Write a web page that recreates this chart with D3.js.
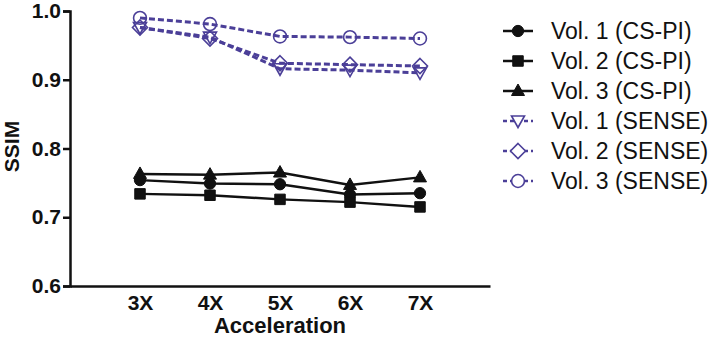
<!DOCTYPE html>
<html>
<head>
<meta charset="utf-8">
<script src="https://cdn.jsdelivr.net/npm/d3@7"></script>
<style>
  body { margin: 0; background: #fff; }
  svg { display: block; }
</style>
</head>
<body>
<div id="container"></div>
<script>
/* CONSTANTS AND GLOBALS */
const width = 709,
      height = 338,
      margin = {top: 11, bottom: 52, left: 70, right: 219};

const purple = "#4b3f98";

// data
const categories = ["3X", "4X", "5X", "6X", "7X"];
const catPos = [3, 4, 5, 6, 7];
const yTicks = [0.6, 0.7, 0.8, 0.9, 1.0];

const vol1CS = [0.754, 0.749, 0.748, 0.733, 0.735];
const vol2CS = [0.734, 0.732, 0.726, 0.722, 0.715];
const vol3CS = [0.763, 0.762, 0.765, 0.747, 0.758];
const vol1SENSE = [0.976, 0.962, 0.916, 0.914, 0.910];
const vol2SENSE = [0.976, 0.960, 0.924, 0.922, 0.920];
const vol3SENSE = [0.990, 0.981, 0.963, 0.962, 0.960];

const series = [
  {name: "Vol. 1 (CS-PI)", values: vol1CS, symbol: "circle", dashed: false},
  {name: "Vol. 2 (CS-PI)", values: vol2CS, symbol: "square", dashed: false},
  {name: "Vol. 3 (CS-PI)", values: vol3CS, symbol: "triangle", dashed: false},
  {name: "Vol. 1 (SENSE)", values: vol1SENSE, symbol: "tridown", dashed: true},
  {name: "Vol. 2 (SENSE)", values: vol2SENSE, symbol: "diamond", dashed: true},
  {name: "Vol. 3 (SENSE)", values: vol3SENSE, symbol: "ocircle", dashed: true}
];

// marker paths centred on 0,0
function markerPath(sym) {
  switch (sym) {
    case "circle": return d3.symbol(d3.symbolCircle, 100)();
    case "square": return d3.symbol(d3.symbolSquare, 110)();
    case "triangle": return "M0,-7L6.5,4.5L-6.5,4.5Z";
    case "tridown": return "M-6.5,-5L6.5,-5L0,6.5Z";
    case "diamond": return "M0,-7.5L7.5,0L0,7.5L-7.5,0Z";
    case "ocircle": return d3.symbol(d3.symbolCircle, 130)();
  }
}

const svg = d3.select("#container")
  .append("svg")
  .attr("width", width)
  .attr("height", height);

// + SCALES
const xScale = d3.scaleLinear()
  .domain([2, 8])
  .range([margin.left, width - margin.right]);

const yScale = d3.scaleLinear()
  .domain([0.6, 1.0])
  .range([height - margin.bottom, margin.top]);

// + AXES
const xAxis = d3.axisBottom(xScale)
  .tickValues(catPos)
  .tickSize(0)
  .tickPadding(9)
  .tickFormat((d, i) => categories[i]);

const yAxis = d3.axisLeft(yScale)
  .tickValues(yTicks)
  .tickSize(7)
  .tickPadding(2)
  .tickFormat(d3.format(".1f"));

const xAxisGroup = svg.append("g")
  .attr("transform", `translate(0,${height - margin.bottom})`)
  .call(xAxis);

const yAxisGroup = svg.append("g")
  .attr("transform", `translate(${margin.left},0)`)
  .call(yAxis);

[xAxisGroup, yAxisGroup].forEach(g => {
  g.select(".domain").attr("stroke", "#111").attr("stroke-width", 2.5);
  g.selectAll(".tick line").attr("stroke", "#111").attr("stroke-width", 2.5);
  g.selectAll(".tick text")
    .attr("fill", "#111")
    .attr("font-family", "Liberation Sans, Arial, sans-serif")
    .attr("font-weight", "bold")
    .attr("font-size", 21);
});

// axis titles
svg.append("text")
  .attr("x", xScale(5))
  .attr("y", 333)
  .attr("text-anchor", "middle")
  .attr("font-family", "Liberation Sans, Arial, sans-serif")
  .attr("font-weight", "bold")
  .attr("font-size", 22)
  .attr("fill", "#111")
  .text("Acceleration");

svg.append("text")
  .attr("transform", `translate(19,${yScale(0.8) - 2}) rotate(-90)`)
  .attr("text-anchor", "middle")
  .attr("font-family", "Liberation Sans, Arial, sans-serif")
  .attr("font-weight", "bold")
  .attr("font-size", 21)
  .attr("fill", "#111")
  .text("SSIM");

// + LINES
const line = d3.line()
  .x((d, i) => xScale(catPos[i]))
  .y(d => yScale(d));

series.forEach(s => {
  const col = s.dashed ? purple : "#111";
  svg.append("path")
    .datum(s.values)
    .attr("fill", "none")
    .attr("stroke", col)
    .attr("stroke-width", s.dashed ? 3 : 2.5)
    .attr("stroke-dasharray", s.dashed ? "6,3" : null)
    .attr("d", line);

  svg.selectAll(null)
    .data(s.values)
    .join("path")
    .attr("transform", (d, i) => `translate(${xScale(catPos[i])},${yScale(d)})`)
    .attr("d", markerPath(s.symbol))
    .attr("fill", s.dashed ? "#fff" : "#111")
    .attr("fill-opacity", s.dashed ? 0 : 1)
    .attr("stroke", col)
    .attr("stroke-width", s.dashed ? 1.6 : 1);
});

// + LEGEND
const legend = svg.append("g").attr("transform", "translate(503,31)");
const rows = legend.selectAll("g")
  .data(series)
  .join("g")
  .attr("transform", (d, i) => `translate(0,${i * 30})`);

rows.append("line")
  .attr("x1", 0).attr("x2", 30)
  .attr("stroke", d => d.dashed ? purple : "#111")
  .attr("stroke-width", 2.5)
  .attr("stroke-dasharray", d => d.dashed ? "4,3" : null);

rows.append("path")
  .attr("transform", "translate(15,0)")
  .attr("d", d => markerPath(d.symbol))
  .attr("fill", d => d.dashed ? "#fff" : "#111")
  .attr("stroke", d => d.dashed ? purple : "#111")
  .attr("stroke-width", d => d.dashed ? 1.6 : 1);

rows.append("text")
  .attr("x", 48)
  .attr("y", 8)
  .attr("font-family", "Liberation Sans, Arial, sans-serif")
  .attr("font-size", 23)
  .attr("fill", "#111")
  .text(d => d.name);
</script>
</body>
</html>
